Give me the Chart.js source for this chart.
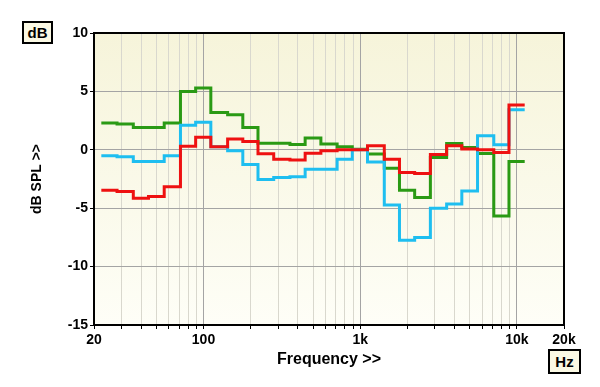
<!DOCTYPE html>
<html><head><meta charset="utf-8">
<script src="https://cdn.jsdelivr.net/npm/chart.js@4/dist/chart.umd.min.js"></script>
<style>
html,body{margin:0;padding:0;background:#fff;}
#wrap{position:relative;width:600px;height:387px;overflow:hidden;}
.unit{position:absolute;box-sizing:border-box;border:2px solid #000;background:#fbf9e4;font:bold 15px "Liberation Sans",Arial,sans-serif;color:#000;text-align:center;}
</style>
</head><body>
<div id="wrap">
<canvas id="c" width="600" height="387"></canvas>
<div class="unit" style="left:22px;top:21px;width:31px;height:23px;line-height:19px;">dB</div>
<div class="unit" style="left:548px;top:349px;width:33px;height:25px;line-height:21px;">Hz</div>
</div>
<script>
// 1/3-octave band centres (Hz)
const bandCenters = [25,31.5,40,50,63,80,100,125,160,200,250,315,400,500,630,800,1000,1250,1600,2000,2500,3150,4000,5000,6300,8000,10000];
// series values (dB) per band
const greenValues = [2.3,2.2,1.9,1.9,2.3,5.0,5.3,3.2,3.0,1.9,0.57,0.57,0.45,1.0,0.5,0.26,0.05,-0.37,-1.57,-3.46,-4.09,-0.66,0.54,0.2,-0.32,-5.66,-1.0];
const cyanValues  = [-0.5,-0.6,-1.0,-1.0,-0.5,2.1,2.35,0.26,-0.09,-1.25,-2.55,-2.37,-2.3,-1.66,-1.66,-0.8,0.0,-1.05,-4.72,-7.74,-7.5,-5.0,-4.65,-3.52,1.2,0.43,3.43];
const redValues   = [-3.46,-3.57,-4.14,-4.0,-3.17,0.3,1.08,0.26,0.92,0.7,-0.33,-0.8,-0.88,-0.29,-0.09,0.0,0.0,0.34,-0.8,-1.95,-2.03,-0.4,0.34,0.06,0.0,-0.23,3.83];
// axis ticks
const xTickValues = [20,30,40,50,60,70,80,90,100,200,300,400,500,600,700,800,900,1000,2000,3000,4000,5000,6000,7000,8000,9000,10000,20000];
const xTickLabels = {20:'20',100:'100',1000:'1k',10000:'10k',20000:'20k'};
const xMajor = [100,1000,10000];
const yTickValues = [10,5,0,-5,-10,-15];

const EDGE = Math.pow(2, 1/6);
function stepPoints(values){
  const pts = bandCenters.map((c,i)=>({x:c/EDGE, y:values[i]}));
  const last = bandCenters.length-1;
  pts.push({x:bandCenters[last]*EDGE, y:values[last]});
  return pts;
}

const FONT = '"Liberation Sans", Arial, sans-serif';

const bgPlugin = {
  id:'bg',
  beforeDraw(chart){
    const {ctx, chartArea:a} = chart;
    const g = ctx.createLinearGradient(0,a.top,0,a.bottom);
    g.addColorStop(0,'#f6f4da');
    g.addColorStop(1,'#fefef7');
    ctx.save(); ctx.fillStyle=g; ctx.fillRect(a.left,a.top,a.right-a.left,a.bottom-a.top); ctx.restore();
  },
  afterDraw(chart){
    const {ctx, chartArea:a} = chart;
    ctx.save(); ctx.strokeStyle='#000'; ctx.lineWidth=2;
    ctx.strokeRect(a.left,a.top,a.right-a.left,a.bottom-a.top);
    ctx.restore();
  }
};

const ds = (label, values, color) => ({
  label, data: stepPoints(values), borderColor: color, backgroundColor: color,
  borderWidth: 3, pointRadius: 0, stepped: 'before', fill: false,
  borderJoinStyle: 'miter', borderCapStyle: 'butt', tension: 0
});

new Chart(document.getElementById('c'), {
  type: 'line',
  data: { datasets: [
    ds('Red', redValues, '#ee1111'),
    ds('Cyan', cyanValues, '#1ebef0'),
    ds('Green', greenValues, '#2a9a14')
  ]},
  options: {
    responsive:false, animation:false, devicePixelRatio:1,
    parsing:true,
    layout:{padding:{top:33,right:36,bottom:0,left:0}},
    plugins:{legend:{display:false}, tooltip:{enabled:false}},
    scales:{
      x:{
        type:'logarithmic', min:20, max:20000,
        afterBuildTicks(s){ s.ticks = xTickValues.map(v=>({value:v, major: xMajor.includes(v)})); },
        afterFit(s){ s.height = 62; },
        ticks:{ autoSkip:false, maxRotation:0, minRotation:0, padding:3, color:'#000',
          font:{family:FONT, size:14, weight:'bold'},
          callback:(v)=> xTickLabels[v] !== undefined ? xTickLabels[v] : '' },
        grid:{ color:(c)=> (c.tick && xMajor.includes(c.tick.value)) ? '#a4a4a4' : '#d9d8ce',
          lineWidth:1, tickLength:4, tickColor:'#000', drawTicks:true },
        border:{display:true, color:'#000', width:2},
        title:{display:true, text:'Frequency >>', color:'#000',
          font:{family:FONT, size:16, weight:'bold'}, padding:{top:0,bottom:18}}
      },
      y:{
        type:'linear', min:-15, max:10,
        afterBuildTicks(s){ s.ticks = yTickValues.map(v=>({value:v})); },
        afterFit(s){ s.width = 94; },
        ticks:{ padding:2, color:'#000', font:{family:FONT, size:14, weight:'bold'},
          callback:(v)=> String(v) },
        grid:{ color:'#a4a4a4', lineWidth:1, tickLength:4, tickColor:'#000' },
        border:{display:true, color:'#000', width:2},
        title:{display:true, text:'dB SPL >>', color:'#000',
          font:{family:FONT, size:14, weight:'bold'}, padding:{top:29,bottom:0}}
      }
    }
  },
  plugins:[bgPlugin]
});
</script>
</body></html>
